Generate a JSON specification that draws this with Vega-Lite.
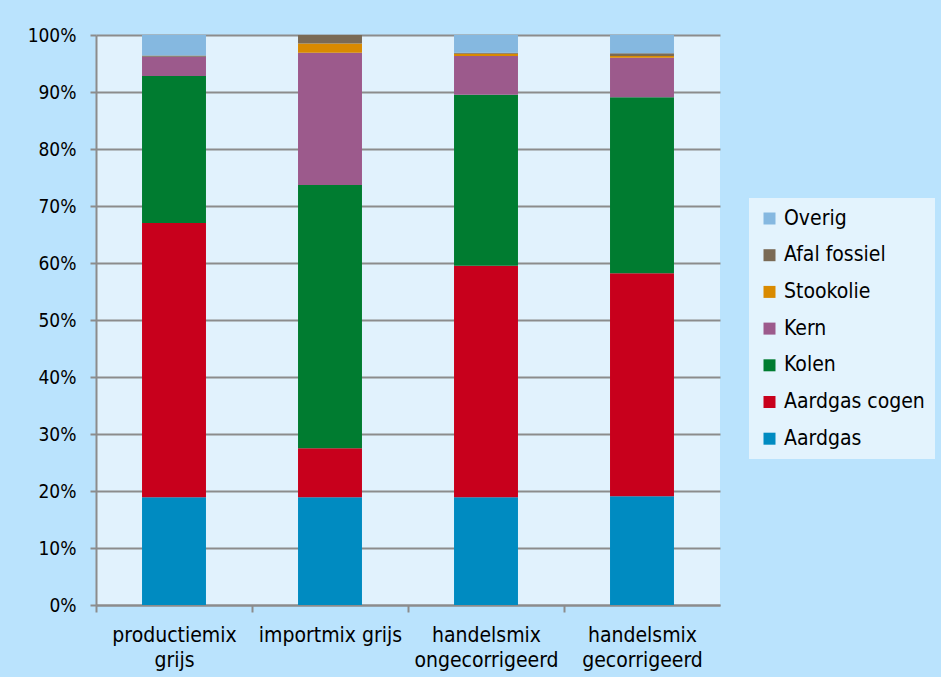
{
  "$schema": "https://vega.github.io/schema/vega-lite/v6.json",
  "width": 624,
  "height": 570,
  "autosize": {"type": "none"},
  "padding": {"left": 96, "top": 35, "right": 221, "bottom": 72},
  "background": "#bae3fd",
  "config": {
    "font": "DejaVu Sans Condensed",
    "view": {"fill": "#e1f2fd", "stroke": null}
  },
  "data": {
    "values": [
      {"mix": "productiemix grijs", "bron": "Aardgas", "rang": 1, "aandeel": 18.9},
      {"mix": "productiemix grijs", "bron": "Aardgas cogen", "rang": 2, "aandeel": 48.1},
      {"mix": "productiemix grijs", "bron": "Kolen", "rang": 3, "aandeel": 25.8},
      {"mix": "productiemix grijs", "bron": "Kern", "rang": 4, "aandeel": 3.4},
      {"mix": "productiemix grijs", "bron": "Stookolie", "rang": 5, "aandeel": 0.0},
      {"mix": "productiemix grijs", "bron": "Afal fossiel", "rang": 6, "aandeel": 0.2},
      {"mix": "productiemix grijs", "bron": "Overig", "rang": 7, "aandeel": 3.6},
      {"mix": "importmix grijs", "bron": "Aardgas", "rang": 1, "aandeel": 18.9},
      {"mix": "importmix grijs", "bron": "Aardgas cogen", "rang": 2, "aandeel": 8.6},
      {"mix": "importmix grijs", "bron": "Kolen", "rang": 3, "aandeel": 46.2},
      {"mix": "importmix grijs", "bron": "Kern", "rang": 4, "aandeel": 23.2},
      {"mix": "importmix grijs", "bron": "Stookolie", "rang": 5, "aandeel": 1.6},
      {"mix": "importmix grijs", "bron": "Afal fossiel", "rang": 6, "aandeel": 1.5},
      {"mix": "importmix grijs", "bron": "Overig", "rang": 7, "aandeel": 0.0},
      {"mix": "handelsmix ongecorrigeerd", "bron": "Aardgas", "rang": 1, "aandeel": 18.9},
      {"mix": "handelsmix ongecorrigeerd", "bron": "Aardgas cogen", "rang": 2, "aandeel": 40.6},
      {"mix": "handelsmix ongecorrigeerd", "bron": "Kolen", "rang": 3, "aandeel": 30.0},
      {"mix": "handelsmix ongecorrigeerd", "bron": "Kern", "rang": 4, "aandeel": 6.8},
      {"mix": "handelsmix ongecorrigeerd", "bron": "Stookolie", "rang": 5, "aandeel": 0.4},
      {"mix": "handelsmix ongecorrigeerd", "bron": "Afal fossiel", "rang": 6, "aandeel": 0.2},
      {"mix": "handelsmix ongecorrigeerd", "bron": "Overig", "rang": 7, "aandeel": 3.1},
      {"mix": "handelsmix gecorrigeerd", "bron": "Aardgas", "rang": 1, "aandeel": 19.1},
      {"mix": "handelsmix gecorrigeerd", "bron": "Aardgas cogen", "rang": 2, "aandeel": 39.1},
      {"mix": "handelsmix gecorrigeerd", "bron": "Kolen", "rang": 3, "aandeel": 30.9},
      {"mix": "handelsmix gecorrigeerd", "bron": "Kern", "rang": 4, "aandeel": 6.9},
      {"mix": "handelsmix gecorrigeerd", "bron": "Stookolie", "rang": 5, "aandeel": 0.3},
      {"mix": "handelsmix gecorrigeerd", "bron": "Afal fossiel", "rang": 6, "aandeel": 0.5},
      {"mix": "handelsmix gecorrigeerd", "bron": "Overig", "rang": 7, "aandeel": 3.2}
    ]
  },
  "mark": {"type": "bar"},
  "encoding": {
    "x": {
      "field": "mix",
      "type": "nominal",
      "sort": null,
      "scale": {"paddingInner": 0.59, "paddingOuter": 0.295},
      "axis": {
        "title": null,
        "labelAngle": 0,
        "labelFontSize": 21,
        "labelColor": "#000000",
        "labelExpr": "datum.value == 'importmix grijs' ? datum.value : split(datum.value, ' ')",
        "labelLineHeight": 25,
        "labelPadding": 12,
        "labelBaseline": "top",
        "domainColor": "#8c8c8c",
        "domainWidth": 2,
        "tickColor": "#8c8c8c",
        "tickWidth": 2,
        "tickSize": 7,
        "tickOffset": -78,
        "labelOffset": 78
      }
    },
    "y": {
      "field": "aandeel",
      "type": "quantitative",
      "stack": "normalize",
      "scale": {"domain": [0, 1], "nice": false},
      "axis": {
        "title": null,
        "format": ".0%",
        "values": [0, 0.1, 0.2, 0.3, 0.4, 0.5, 0.6, 0.7, 0.8, 0.9, 1],
        "labelOverlap": false,
        "labelFontSize": 19,
        "labelColor": "#000000",
        "labelPadding": 14,
        "domainColor": "#8c8c8c",
        "domainWidth": 2,
        "tickColor": "#8c8c8c",
        "tickWidth": 2,
        "tickSize": 6,
        "gridColor": "#8c8c8c",
        "gridWidth": 2
      }
    },
    "color": {
      "field": "bron",
      "type": "nominal",
      "scale": {
        "domain": ["Overig", "Afal fossiel", "Stookolie", "Kern", "Kolen", "Aardgas cogen", "Aardgas"],
        "range": ["#85b8e0", "#7a6a55", "#d98a00", "#9c5a8c", "#007c30", "#c8001c", "#008bc1"]
      },
      "legend": {
        "title": null,
        "orient": "none",
        "legendX": 653,
        "legendY": 163,
        "fillColor": "#e3f3fd",
        "padding": 10,
        "symbolType": "square",
        "symbolSize": 144,
        "symbolStrokeWidth": 0,
        "labelFontSize": 21,
        "labelColor": "#000000",
        "labelOffset": 4,
        "rowPadding": 14.7
      }
    },
    "order": {"field": "rang", "type": "quantitative"}
  }
}
